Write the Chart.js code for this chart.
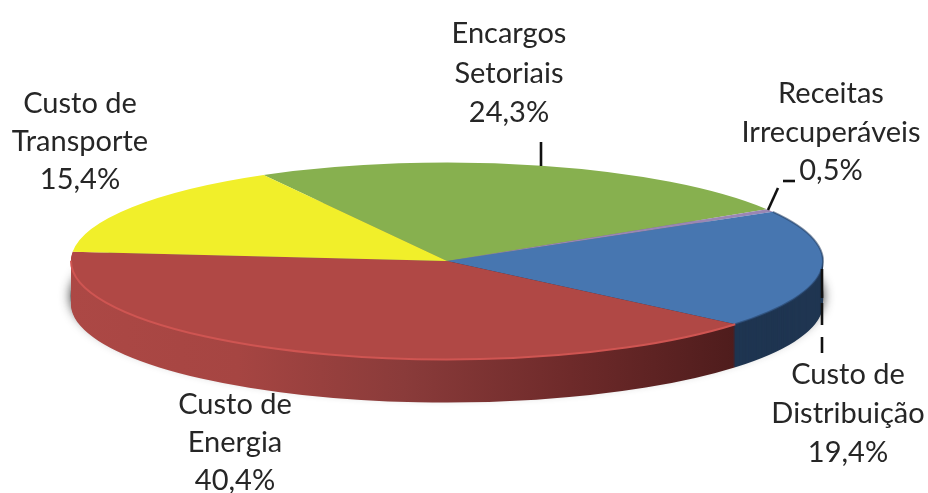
<!DOCTYPE html>
<html><head><meta charset="utf-8">
<style>html,body{margin:0;padding:0;background:#fff}#w{width:928px;height:493px;position:relative}canvas{display:block}</style>
<script src="https://cdn.jsdelivr.net/npm/chart.js@4"></script>
</head><body><div id="w"><canvas id="c" width="928" height="493"></canvas></div>
<script>
const categories = [["Encargos","Setoriais"],["Receitas","Irrecuperáveis"],["Custo de","Distribuição"],["Custo de","Energia"],["Custo de","Transporte"]];
const shares = [24.3,0.5,19.4,40.4,15.4];
const faceColors = ["#87b04f","#9a86b4","#4776b0","#b04845","#f1ef2a"];
const labelAnchors = [[509,34],[831,94],[848,375],[235,405],[80,104]];
const labelSteps = [39.5,38.5,39,38,38];

const CX=447, CY=261, RX=376, RY=98.5, DEPTH=43;
function project(ctx,a){
  ctx.translate(CX,CY);
  ctx.scale(RX/a.outerRadius,RY/a.outerRadius);
  ctx.translate(-a.x,-a.y);
}
function drawAs(a,ctx,fill){
  const ghost=Object.create(a,{options:{value:{...a.options,backgroundColor:fill}}});
  Chart.ArcElement.prototype.draw.call(ghost,ctx);
}
function rim(ctx,a,color,width,from,to){
  ctx.save();
  project(ctx,a);
  ctx.beginPath();
  ctx.arc(a.x,a.y,a.outerRadius,from,to);
  ctx.restore();
  ctx.strokeStyle=color;ctx.lineWidth=width;ctx.stroke();
}
const pie3d={
  id:'pie3d',
  beforeDatasetsDraw(chart){
    const ctx=chart.ctx, arcs=chart.getDatasetMeta(0).data, a0=arcs[0];
    const toX=x=>a0.x+(x-CX)*a0.outerRadius/RX;
    const red=ctx.createLinearGradient(toX(71),0,toX(737),0);
    red.addColorStop(0,"#ac4845");red.addColorStop(.25,"#a64542");red.addColorStop(.5,"#8a3b3a");
    red.addColorStop(.75,"#6e2a2a");red.addColorStop(1,"#4e1c1c");
    const walls=[[3,red],[2,"#1f3551"]];
    ctx.save();
    ctx.translate(0,DEPTH-8);
    ctx.save();
    project(ctx,a0);
    ctx.beginPath();
    ctx.ellipse(a0.x,a0.y,a0.outerRadius+0.5,a0.outerRadius,0,0,Math.PI*2);
    ctx.restore();
    ctx.shadowColor="rgba(30,30,30,.85)";ctx.shadowBlur=11;
    ctx.fillStyle="#777";ctx.fill();
    ctx.restore();
    for(let i=DEPTH;i>=1;i--){
      for(const [idx,fill] of walls){
        ctx.save();
        ctx.translate(0,i);
        project(ctx,arcs[idx]);
        drawAs(arcs[idx],ctx,fill);
        ctx.restore();
      }
    }
    ctx.save();
    project(ctx,a0);
  },
  afterDatasetsDraw(chart){
    const ctx=chart.ctx, arcs=chart.getDatasetMeta(0).data;
    ctx.restore();
    const e=arcs[3], d=arcs[2];
    rim(ctx,e,"#cf5552",2,e.startAngle,e.endAngle-0.09);
    rim(ctx,d,"rgba(35,60,95,.55)",2,d.startAngle,d.endAngle);
    ctx.strokeStyle="#111";ctx.lineWidth=2.6;
    const seg=(x1,y1,x2,y2)=>{ctx.beginPath();ctx.moveTo(x1,y1);ctx.lineTo(x2,y2);ctx.stroke();};
    seg(541,142,541,166);
    seg(768,210,778,188);
    seg(783,181,795,181);
    seg(822,269,822,298);
    seg(822,303,822,325);
    seg(822,337,822,353);
    ctx.fillStyle="#262626";
    ctx.font='29px Lato, Carlito, sans-serif';
    ctx.textAlign="center";ctx.textBaseline="middle";
    categories.forEach((lines,i)=>{
      const [x,y]=labelAnchors[i], st=labelSteps[i];
      const rows=[...lines,shares[i].toFixed(1).replace('.',',')+'%'];
      rows.forEach((t,k)=>ctx.fillText(t,x,y+k*st));
    });
  }
};
new Chart(document.getElementById('c'),{
  type:'pie',
  data:{labels:categories.map(l=>l.join(' ')),datasets:[{data:shares,backgroundColor:faceColors,borderWidth:0}]},
  options:{responsive:false,animation:false,rotation:-29.2,
    layout:{padding:4},
    plugins:{legend:{display:false},tooltip:{enabled:false}}},
  plugins:[pie3d]
});
</script></body></html>
